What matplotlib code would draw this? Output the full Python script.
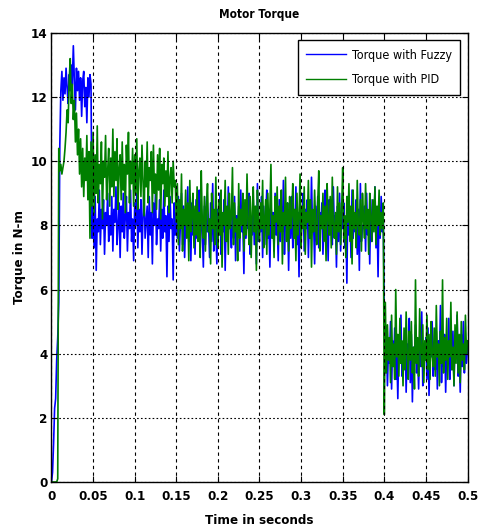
import numpy as np
import matplotlib
matplotlib.use("Agg")
import matplotlib.pyplot as plt
from matplotlib import font_manager

# prefer a narrow sans face for all text when one is installed
installed = font_manager.fontManager.ttflist
if any(f.name == 'Liberation Sans Narrow' for f in installed):
    plt.rcParams['font.family'] = ['Liberation Sans Narrow', 'DejaVu Sans']
elif any(f.name == 'DejaVu Sans' and f.stretch in ('condensed', 'semi-condensed', 600, 700) for f in installed):
    plt.rcParams['font.family'] = ['DejaVu Sans']
    plt.rcParams['font.stretch'] = 'condensed'
else:
    plt.rcParams['font.family'] = ['Liberation Sans', 'DejaVu Sans']

# sampled every 1.25 ms from 0 to 0.5 s
time_s = np.linspace(0.0, 0.5, 401)

fuzzy_torque = [
    0.0, 0.3, 1.2, 2.3, 2.6, 3.8, 4.5, 5.6, 10.5, 12.2, 12.8, 11.9, 12.6, 12.1, 12.9, 12.3, 11.8, 12.7, 12.2, 13.0,
    12.4, 13.6, 12.5, 11.6, 12.9, 12.2, 12.8, 11.9, 12.6, 11.4, 12.5, 12.8, 11.7, 12.3, 11.2, 12.6, 12.0, 12.7, 12.4, 7.6,
    8.6, 7.3, 8.9, 6.6, 8.2, 7.8, 9.1, 7.4, 8.5, 7.9, 8.8, 7.1, 8.4, 8.0, 9.0, 7.5, 8.3, 7.7, 8.9, 7.2,
    8.5, 8.1, 9.2, 7.4, 8.0, 8.7, 7.0, 8.6, 7.8, 9.0, 7.6, 8.3, 8.9, 7.2, 8.4, 7.9, 9.1, 7.5, 8.2, 6.9,
    8.7, 8.0, 9.0, 7.3, 8.5, 7.8, 8.8, 7.1, 8.3, 9.2, 7.6, 8.1, 8.6, 7.0, 8.9, 7.7, 8.4, 6.8, 8.7, 8.0,
    9.0, 7.4, 8.2, 7.9, 8.8, 7.2, 8.5, 7.6, 9.1, 7.8, 8.3, 6.4, 8.6, 7.5, 8.9, 7.9, 8.2, 6.3, 8.7, 7.7,
    8.4, 7.6, 8.9, 7.2, 8.1, 9.0, 7.4, 8.6, 7.0, 8.3, 7.8, 9.2, 7.5, 8.0, 6.9, 8.7, 7.7, 8.4, 7.1, 8.8,
    7.6, 8.2, 9.1, 7.3, 8.5, 7.9, 6.7, 8.6, 7.4, 8.9, 7.8, 8.1, 7.0, 8.7, 7.5, 9.3, 7.2, 8.3, 7.9, 6.8,
    8.5, 7.7, 9.0, 7.1, 8.2, 7.8, 8.8, 6.6, 8.4, 7.5, 9.2, 7.9, 8.0, 7.3, 8.7, 7.6, 8.9, 6.9, 8.3, 7.7,
    8.6, 7.2, 9.1, 7.8, 8.1, 6.5, 8.7, 7.6, 8.4, 7.9, 9.0, 7.1, 8.2, 7.7, 8.8, 7.4, 8.5, 6.8, 9.3, 7.5,
    8.0, 7.8, 8.9, 7.0, 8.6, 7.4, 8.3, 9.1, 7.6, 8.1, 6.7, 8.7, 7.9, 8.4, 7.2, 9.0, 7.7, 8.2, 6.9, 8.8,
    7.5, 8.6, 7.8, 9.4, 7.1, 8.3, 7.9, 8.7, 6.6, 8.5, 7.6, 8.9, 7.3, 8.0, 7.8, 9.2, 7.4, 8.4, 6.4, 8.6,
    7.7, 8.2, 9.0, 7.2, 8.5, 7.9, 8.8, 7.0, 8.3, 7.6, 9.5, 7.8, 8.1, 6.8, 8.6, 7.5, 8.9, 7.3, 8.4, 7.9,
    8.7, 7.1, 8.2, 9.1, 7.6, 8.5, 6.9, 8.8, 7.7, 8.0, 7.4, 9.2, 7.8, 8.3, 6.7, 8.6, 7.5, 9.0, 7.2, 8.4,
    7.9, 8.7, 7.3, 8.1, 6.2, 8.9, 7.7, 8.4, 7.0, 9.1, 7.6, 8.2, 7.8, 8.8, 7.1, 8.5, 6.6, 9.3, 7.5, 8.0,
    7.9, 8.6, 7.2, 9.0, 7.7, 8.3, 6.8, 8.8, 7.5, 8.1, 7.9, 9.2, 7.3, 8.5, 6.4, 8.7, 7.6, 8.9, 7.8, 8.2,
    5.3, 3.4, 4.6, 3.0, 4.2, 3.7, 5.0, 2.9, 4.4, 3.6, 4.8, 3.2, 4.1, 2.6, 4.5, 3.8, 5.2, 3.3, 4.0, 3.5,
    4.7, 2.8, 4.3, 3.9, 5.1, 3.1, 4.6, 2.5, 4.2, 3.7, 4.9, 3.4, 4.0, 2.9, 4.4, 3.6, 5.3, 3.0, 4.1, 3.8,
    4.5, 3.2, 4.8, 2.7, 4.3, 3.9, 5.0, 3.3, 4.1, 3.5, 4.7, 2.9, 4.4, 3.7, 5.5, 3.1, 4.2, 3.6, 4.6, 2.8,
    4.3, 3.8, 5.1, 3.2, 4.0, 3.5, 4.7, 3.0, 4.5, 3.9, 5.2, 3.3, 4.1, 2.8, 4.6, 3.6, 5.0, 3.4, 4.3, 3.7,
    4.2,
]

pid_torque = [
    0.0, 0.0, 0.0, 0.0, 0.0, 0.0, 0.1, 10.4, 9.7, 9.9, 9.6, 9.8, 10.0, 10.4, 10.9, 11.6, 11.2, 12.5, 13.2, 11.8,
    12.4, 11.3, 11.9, 10.6, 11.5, 10.2, 11.0, 9.6, 10.7, 9.2, 10.4, 8.9, 10.1, 9.4, 10.8, 8.8, 10.3, 7.6, 10.6, 8.6,
    10.9, 8.4, 10.2, 9.0, 11.1, 8.7, 9.9, 9.3, 10.6, 8.2, 10.0, 9.5, 10.8, 8.8, 9.7, 10.4, 8.6, 10.1, 9.2, 11.0,
    8.9, 10.3, 9.4, 10.7, 8.5, 9.8, 10.2, 8.8, 10.6, 9.1, 9.9, 8.4, 10.5, 9.6, 10.9, 8.7, 10.0, 9.3, 10.4, 8.6,
    10.2, 9.0, 10.7, 8.5, 9.7, 10.1, 8.9, 10.5, 9.4, 8.3, 10.0, 9.2, 10.6, 8.7, 9.8, 9.4, 10.3, 8.4, 10.5, 9.0,
    9.6, 8.5, 10.2, 9.1, 10.4, 8.2, 9.9, 9.3, 10.1, 8.6, 9.7, 8.9, 10.3, 8.4, 9.5, 9.8, 8.7, 10.0, 9.2, 9.4,
    8.1, 9.3, 7.4, 8.8, 7.9, 9.6, 7.2, 8.5, 8.0, 9.1, 7.6, 8.7, 6.9, 9.4, 7.8, 8.3, 9.0, 7.3, 8.6, 7.7,
    9.2, 7.5, 8.4, 7.0, 9.7, 8.1, 7.6, 8.9, 7.2, 8.6, 9.3, 7.8, 8.2, 6.8, 9.0, 7.9, 8.5, 7.4, 9.5, 8.0,
    7.3, 8.8, 7.7, 9.1, 6.7, 8.4, 8.0, 9.4, 7.5, 8.6, 7.1, 9.0, 7.9, 8.3, 9.8, 7.4, 8.7, 7.8, 8.2, 6.9,
    9.3, 7.6, 8.5, 8.0, 9.0, 7.2, 8.8, 7.7, 9.6, 8.1, 7.4, 8.9, 7.0, 8.4, 9.2, 7.8, 8.6, 6.6, 9.1, 8.0,
    7.5, 8.7, 7.9, 9.4, 7.3, 8.2, 8.8, 7.1, 9.0, 7.7, 8.5, 9.9, 7.6, 8.3, 7.0, 8.9, 8.1, 9.2, 7.4, 8.6,
    7.8, 9.1, 6.8, 8.4, 8.0, 9.5, 7.5, 8.7, 7.2, 8.9, 7.9, 8.3, 9.3, 7.6, 8.5, 6.9, 9.0, 7.7, 8.2, 9.6,
    7.3, 8.6, 7.9, 9.2, 7.1, 8.4, 8.1, 9.4, 7.6, 8.8, 6.7, 8.5, 7.8, 9.1, 8.0, 7.4, 8.7, 9.7, 7.2, 8.3,
    7.9, 9.0, 7.5, 8.6, 6.9, 9.3, 8.2, 7.7, 8.9, 7.3, 9.5, 8.0, 7.6, 8.4, 7.1, 9.2, 7.8, 8.7, 7.4, 8.5,
    9.8, 7.6, 8.3, 7.0, 8.9, 8.1, 9.3, 7.5, 8.6, 6.8, 9.1, 7.9, 8.4, 7.3, 9.4, 8.0, 7.7, 8.8, 7.2, 9.0,
    8.2, 7.6, 9.3, 7.9, 8.5, 7.1, 9.0, 8.3, 7.5, 8.8, 7.8, 9.2, 7.4, 8.6, 8.0, 9.1, 7.7, 8.4, 7.9, 8.7,
    2.1, 5.6, 3.4, 4.9, 3.8, 4.5, 3.1, 5.2, 3.6, 4.3, 3.2, 6.0, 3.9, 4.6, 3.3, 5.1, 3.7, 4.4, 3.0, 4.8,
    3.5, 5.3, 4.0, 3.2, 4.7, 3.8, 5.0, 3.4, 4.2, 2.9, 6.3, 3.7, 4.5, 3.3, 5.4, 4.1, 3.6, 4.9, 3.1, 4.4,
    3.8, 5.2, 3.5, 4.6, 3.2, 5.0, 4.0, 3.6, 4.8, 3.3, 5.5, 3.9, 4.3, 3.0, 4.7, 3.7, 6.3, 3.4, 4.5, 3.8,
    5.1, 3.2, 4.4, 3.9, 5.6, 3.5, 4.2, 3.0, 4.9, 3.7, 5.3, 3.4, 4.6, 3.1, 5.0, 3.8, 4.3, 3.5, 5.2, 4.0,
    4.4,
]

x_ticks = [0, 0.05, 0.1, 0.15, 0.2, 0.25, 0.3, 0.35, 0.4, 0.45, 0.5]
x_tick_labels = ['0', '0.05', '0.1', '0.15', '0.2', '0.25', '0.3', '0.35', '0.4', '0.45', '0.5']
y_ticks = [0, 2, 4, 6, 8, 10, 12, 14]

fig = plt.figure(figsize=(4.79, 5.31), dpi=100)
ax = fig.add_axes([0.1075, 0.0923, 0.8685, 0.8457])

ax.plot(time_s, fuzzy_torque, color='#0000ff', lw=1.2, label='Torque with Fuzzy')
ax.plot(time_s, pid_torque, color='#007f00', lw=1.2, label='Torque with PID')

ax.set_xlim(0, 0.5)
ax.set_ylim(0, 14)
ax.set_xticks(x_ticks)
ax.set_xticklabels(x_tick_labels)
ax.set_yticks(y_ticks)

ax.xaxis.grid(True, color='k', linestyle=(0, (3, 3)), lw=0.8)
ax.yaxis.grid(True, color='k', linestyle=(0, (1.5, 2)), lw=0.8)
ax.set_axisbelow(False)

ax.tick_params(direction='in', length=4, top=True, right=True, labelsize=9.5)
ax.tick_params(axis='x', pad=6)
ax.tick_params(axis='y', pad=3)
for lbl in ax.get_xticklabels() + ax.get_yticklabels():
    lbl.set_fontweight('bold')
for sp in ax.spines.values():
    sp.set_linewidth(1.0)

ax.set_title('Motor Torque', fontsize=8.5, fontweight='bold', pad=11)
ax.set_xlabel('Time in seconds', fontsize=9.5, fontweight='bold', va='center')
ax.xaxis.set_label_coords(0.5, -0.085)
ax.set_ylabel('Torque in N-m', fontsize=9.5, fontweight='bold', va='center')
ax.yaxis.set_label_coords(-0.076, 0.5)

leg = ax.legend(loc='upper right', fontsize=9, frameon=True, fancybox=False,
                edgecolor='k', framealpha=1, handlelength=3.2, handletextpad=0.5,
                borderpad=0.65, labelspacing=0.95, borderaxespad=0.6)
leg.get_frame().set_linewidth(1.0)
for h in leg.get_lines():
    h.set_linewidth(1.0)

fig.savefig('out.png', dpi=100)
